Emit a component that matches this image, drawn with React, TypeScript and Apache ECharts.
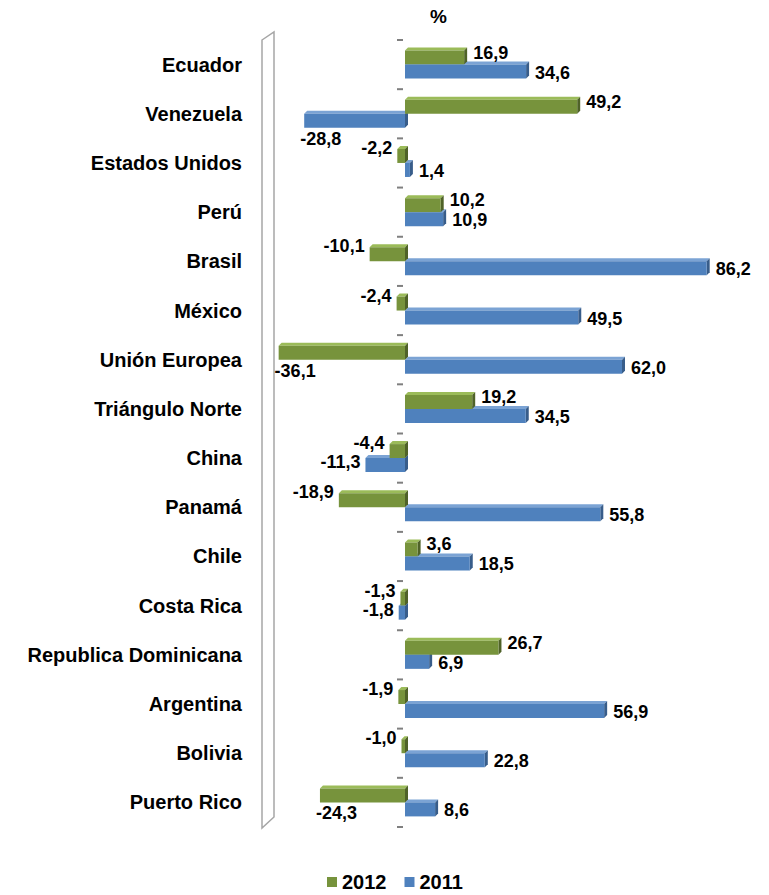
import React, { useEffect, useRef } from 'react';
import * as echarts from 'echarts';

const countries = [
  'Ecuador', 'Venezuela', 'Estados Unidos', 'Perú', 'Brasil', 'México', 'Unión Europea',
  'Triángulo Norte', 'China', 'Panamá', 'Chile', 'Costa Rica', 'Republica Dominicana',
  'Argentina', 'Bolivia', 'Puerto Rico',
];
const values2012 = [16.9, 49.2, -2.2, 10.2, -10.1, -2.4, -36.1, 19.2, -4.4, -18.9, 3.6, -1.3, 26.7, -1.9, -1.0, -24.3];
const values2011 = [34.6, -28.8, 1.4, 10.9, 86.2, 49.5, 62.0, 34.5, -11.3, 55.8, 18.5, -1.8, 6.9, 56.9, 22.8, 8.6];
const seriesNames = ['2012', '2011'];
const unitLabel = '%';

const X_MIN = -40;
const X_MAX = 90;
const GRID_LEFT = 265;
const GRID_TOP = 40;
const GRID_W = 455;
const GRID_H = 787;

const FONT = '"Liberation Sans", Arial, sans-serif';
const faceColors = ['#77933C', '#4F81BD'];
const topColors = ['#9BBB59', '#7BA3D4'];
const sideColors = ['#4F6228', '#385D8A'];
const tickColor = '#7F7F7F';
const BAR_W = 14;
const DEPTH = 3;

const fmt = (v: number) => v.toFixed(1).replace('.', ',');

function labelFor(v: number, k: number) {
  if (v >= 0) return { position: 'right', distance: 9, offset: [0, k === 0 ? -5 : 1] };
  if (v > -20) return { position: 'left', distance: 5, offset: [0, k === 0 ? -8 : -3] };
  return { position: 'left', distance: 5, offset: [42, 18] };
}

const makeRender = (k: number) => (params: any, api: any) => {
  const v = api.value(0);
  const i = api.value(1);
  const p0 = api.coord([0, i]);
  const p1 = api.coord([v, i]);
  const cy = p0[1];
  const top = cy - BAR_W + k * BAR_W;
  const bottom = top + BAR_W;
  const xl = Math.min(p0[0], p1[0]);
  const xr = Math.max(p0[0], p1[0]);
  const children: any[] = [
    {
      type: 'polygon',
      shape: { points: [[xl, top], [xl + DEPTH, top - DEPTH], [xr + DEPTH, top - DEPTH], [xr, top]] },
      style: { fill: topColors[k] },
    },
    {
      type: 'polygon',
      shape: { points: [[xr, top], [xr + DEPTH, top - DEPTH], [xr + DEPTH, bottom - DEPTH], [xr, bottom]] },
      style: { fill: sideColors[k] },
    },
  ];
  if (k === 1) {
    // category boundary ticks at the value axis' zero
    const band = api.size([0, 1])[1];
    const tick = (y: number) => ({
      type: 'rect',
      shape: { x: p0[0] - 8, y: y - 1, width: 6, height: 2 },
      style: { fill: tickColor },
    });
    children.push(tick(cy - band / 2));
    if (params.dataIndex === countries.length - 1) children.push(tick(cy + band / 2));
  }
  return { type: 'group', children };
};

export default function App() {
  const ref = useRef<HTMLDivElement>(null);
  useEffect(() => {
    document.body.style.margin = '0';
    const chart = echarts.init(ref.current!, null, { renderer: 'svg' });
    const allValues = [values2012, values2011];
    const barSeries = allValues.map((vals, k) => ({
      type: 'bar',
      name: seriesNames[k],
      z: 3,
      barWidth: BAR_W,
      barGap: '0%',
      itemStyle: { color: faceColors[k] },
      label: {
        show: true,
        formatter: (p: any) => fmt(p.value),
        fontFamily: FONT,
        fontSize: 18,
        fontWeight: 'bold',
        color: '#000',
      },
      data: vals.map((v) => ({ value: v, label: labelFor(v, k) })),
    }));
    const depthSeries = [1, 0].map((k) => ({
      type: 'custom',
      name: seriesNames[k] + ' 3d',
      z: 1,
      silent: true,
      clip: false,
      itemStyle: { color: faceColors[k] },
      encode: { x: 0, y: 1 },
      renderItem: makeRender(k),
      data: allValues[k].map((v, i) => [v, i]),
    }));
    chart.setOption({
      animation: false,
      backgroundColor: '#fff',
      title: {
        text: unitLabel,
        left: 425,
        top: 2,
        textStyle: { fontFamily: FONT, fontSize: 19, fontWeight: 'bold', color: '#000' },
      },
      legend: {
        data: seriesNames,
        left: 327,
        top: 872,
        padding: 0,
        itemWidth: 10,
        itemHeight: 10,
        itemGap: 18,
        icon: 'rect',
        textStyle: { fontFamily: FONT, fontSize: 20, fontWeight: 'bold', color: '#000' },
      },
      grid: { left: GRID_LEFT, top: GRID_TOP, width: GRID_W, height: GRID_H },
      xAxis: {
        type: 'value',
        min: X_MIN,
        max: X_MAX,
        show: false,
        splitLine: { show: false },
      },
      yAxis: {
        type: 'category',
        data: countries,
        inverse: true,
        axisLine: { show: false, onZero: false },
        axisTick: { show: false },
        axisLabel: {
          margin: 23,
          fontFamily: FONT,
          fontSize: 20,
          fontWeight: 'bold',
          color: '#000',
          padding: [7, 0, 0, 0],
        },
      },
      graphic: [
        {
          type: 'polygon',
          z: 0,
          silent: true,
          shape: { points: [[262, 40], [274, 32], [274, 817], [262, 828]] },
          style: { fill: '#fff', stroke: '#A6A6A6', lineWidth: 1.5 },
        },
      ],
      series: [...depthSeries, ...barSeries],
    });
    return () => chart.dispose();
  }, []);
  return <div ref={ref} style={{ width: 769, height: 895 }} />;
}
